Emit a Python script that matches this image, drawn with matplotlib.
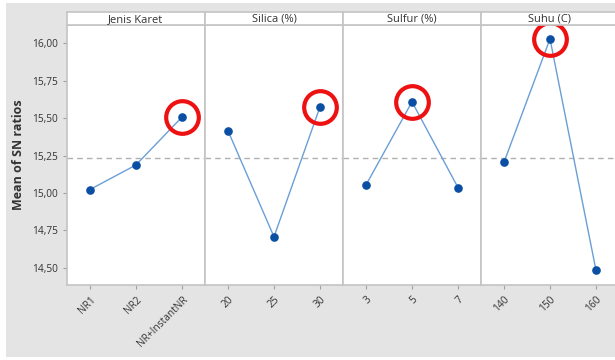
import numpy as np
import matplotlib.pyplot as plt
from matplotlib.patches import Rectangle
from matplotlib.ticker import FuncFormatter

plt.rcParams['font.family'] = ['Open Sans', 'DejaVu Sans']

# main effects plot for SN ratios
factors = ['Jenis Karet', 'Silica (%)', 'Sulfur (%)', 'Suhu (C)']
levels_jenis = ['NR1', 'NR2', 'NR+InstantNR']
levels_silica = ['20', '25', '30']
levels_sulfur = ['3', '5', '7']
levels_suhu = ['140', '150', '160']
sn_jenis = [15.023, 15.187, 15.507]
sn_silica = [15.415, 14.707, 15.575]
sn_sulfur = [15.053, 15.609, 15.036]
sn_suhu = [15.205, 16.029, 14.483]
yticks = [14.50, 14.75, 15.00, 15.25, 15.50, 15.75, 16.00]

levels = [levels_jenis, levels_silica, levels_sulfur, levels_suhu]
values = [sn_jenis, sn_silica, sn_sulfur, sn_suhu]
grand_mean = np.mean(np.concatenate(values))

W, H = 615, 360
fig = plt.figure(figsize=(W / 100, H / 100), dpi=100)
fig.patch.set_facecolor('white')


def box(x, y, w, h):
    return [x / W, 1 - (y + h) / H, w / W, h / H]


bg = Rectangle((6 / W, 3 / H), 1, 1 - 6 / H, transform=fig.transFigure,
               facecolor='#e4e4e4', edgecolor='none', zorder=-10)
fig.patches.append(bg)

edge = '#c4c4c4'
txt = '#333333'
x0, pw, top, bot = 67, 138, 25, 285

axs = []
for i, (name, labs, vals) in enumerate(zip(factors, levels, values)):
    ax = fig.add_axes(box(x0 + pw * i, top, pw, bot - top),
                      sharey=axs[0] if axs else None)
    axs.append(ax)
    xs = np.arange(1, len(labs) + 1)
    ax.axhline(grand_mean, color='#b0b0b0', lw=1, ls=(0, (4, 3)), zorder=1)
    ax.plot(xs, vals, color='#6a9fd6', lw=1, zorder=2)
    ax.plot(xs, vals, 'o', color='#0a4fa3', ms=5.2, zorder=3)
    best = int(np.argmax(vals))
    ax.plot(xs[best], vals[best], 'o', ms=23.5, mfc='none', mec='#ee1111',
            mew=3.0, zorder=4, clip_on=False)
    ax.set_xlim(0.5, len(labs) + 0.5)
    ax.set_xticks(xs)
    ax.set_xticklabels(labs, rotation=45, ha='right', va='top',
                       rotation_mode='anchor', fontsize=7.3, color=txt)
    for s in ax.spines.values():
        s.set_color(edge)
        s.set_linewidth(1.2)
    ax.tick_params(axis='both', colors='#a0a0a0', length=3, width=0.8,
                   labelcolor=txt, labelsize=7.3)
    if i > 0:
        ax.tick_params(axis='y', left=False, labelleft=False)

    # strip title
    sax = fig.add_axes(box(x0 + pw * i, 12, pw, top - 12))
    sax.set_xticks([])
    sax.set_yticks([])
    for s in sax.spines.values():
        s.set_color(edge)
        s.set_linewidth(1.2)
    sax.text(0.5, 0.45, name, ha='center', va='center', fontsize=8,
             color=txt, fontweight='medium', transform=sax.transAxes)

axs[0].set_ylim(14.385, 16.122)
axs[0].set_yticks(yticks)
axs[0].yaxis.set_major_formatter(
    FuncFormatter(lambda v, p: f'{v:.2f}'.replace('.', ',')))
for lab in axs[0].get_yticklabels():
    lab.set_fontweight('medium')
axs[0].set_ylabel('Mean of SN ratios', fontsize=9, color=txt,
                  fontweight='bold', labelpad=5)

fig.savefig('out.png', dpi=100)
